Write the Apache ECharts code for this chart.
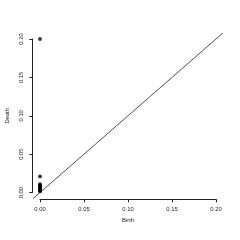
<!DOCTYPE html>
<html>
<head>
<meta charset="utf-8">
<script src="https://cdn.jsdelivr.net/npm/echarts@6/dist/echarts.min.js"></script>
<style>html,body{margin:0;padding:0;background:#fff;}#c{width:240px;height:240px;}</style>
</head>
<body>
<div id="c"></div>
<script>
var birth = [0, 0, 0, 0, 0, 0, 0, 0, 0, 0, 0, 0];
var death = [0.2, 0.021, 0.011, 0.0098, 0.0085, 0.0075, 0.0065, 0.0055, 0.0045, 0.0035, 0.0025, 0.0015];
var xTicks = [0, 0.05, 0.1, 0.15, 0.2];
var yTicks = [0, 0.05, 0.1, 0.15, 0.2];
var diagonalEnds = [-0.008, 0.208];
var xName = 'Birth';
var yName = 'Death';

var pts = birth.map(function (b, i) { return [b, death[i]]; });
var diag = diagonalEnds.map(function (v) { return [v, v]; });
var font = 'Liberation Sans, Arial, sans-serif';
var lineCol = '#222';
var txtCol = '#222';
var fs = 5.8;

var chart = echarts.init(document.getElementById('c'), null, {renderer: 'canvas'});
chart.setOption({
  animation: false,
  backgroundColor: '#fff',
  grid: [
    {left: 40, right: 24, top: 39, bottom: 47.4, containLabel: false, outerBoundsMode: 'none'},
    {left: 33, right: 17, top: 32.9, bottom: 41.3, containLabel: false, outerBoundsMode: 'none'}
  ],
  xAxis: [{
    type: 'value', gridIndex: 0, min: xTicks[0], max: xTicks[xTicks.length - 1], interval: 0.05,
    offset: 6.7,
    name: xName, nameLocation: 'middle', nameGap: 15,
    nameTextStyle: {fontFamily: font, fontSize: fs, color: txtCol},
    axisLine: {show: true, onZero: false, lineStyle: {color: lineCol, width: 1}},
    axisTick: {show: true, length: 3, lineStyle: {color: lineCol, width: 1}},
    axisLabel: {fontFamily: font, fontSize: fs, color: txtCol, margin: 7,
      formatter: function (v) { return v.toFixed(2); }},
    splitLine: {show: false}
  }, {
    type: 'value', gridIndex: 1, min: diagonalEnds[0], max: diagonalEnds[1], show: false
  }],
  yAxis: [{
    type: 'value', gridIndex: 0, min: yTicks[0], max: yTicks[yTicks.length - 1], interval: 0.05,
    offset: 7.7,
    name: yName, nameLocation: 'middle', nameGap: 19, nameRotate: 90,
    nameTextStyle: {fontFamily: font, fontSize: fs, color: txtCol},
    axisLine: {show: true, onZero: false, lineStyle: {color: lineCol, width: 1}},
    axisTick: {show: true, length: 3, lineStyle: {color: lineCol, width: 1}},
    axisLabel: {fontFamily: font, fontSize: fs, color: txtCol, margin: 8, rotate: 90,
      formatter: function (v) { return v.toFixed(2); }},
    splitLine: {show: false}
  }, {
    type: 'value', gridIndex: 1, min: diagonalEnds[0], max: diagonalEnds[1], show: false
  }],
  series: [
    {
      type: 'line', xAxisIndex: 1, yAxisIndex: 1, data: diag, symbol: 'none',
      lineStyle: {color: '#222', width: 0.8}, silent: true
    },
    {
      type: 'scatter', xAxisIndex: 0, yAxisIndex: 0, data: pts, clip: false, symbol: 'circle', symbolSize: 3.8,
      itemStyle: {color: '#000'}
    }
  ]
});
</script>
</body>
</html>
